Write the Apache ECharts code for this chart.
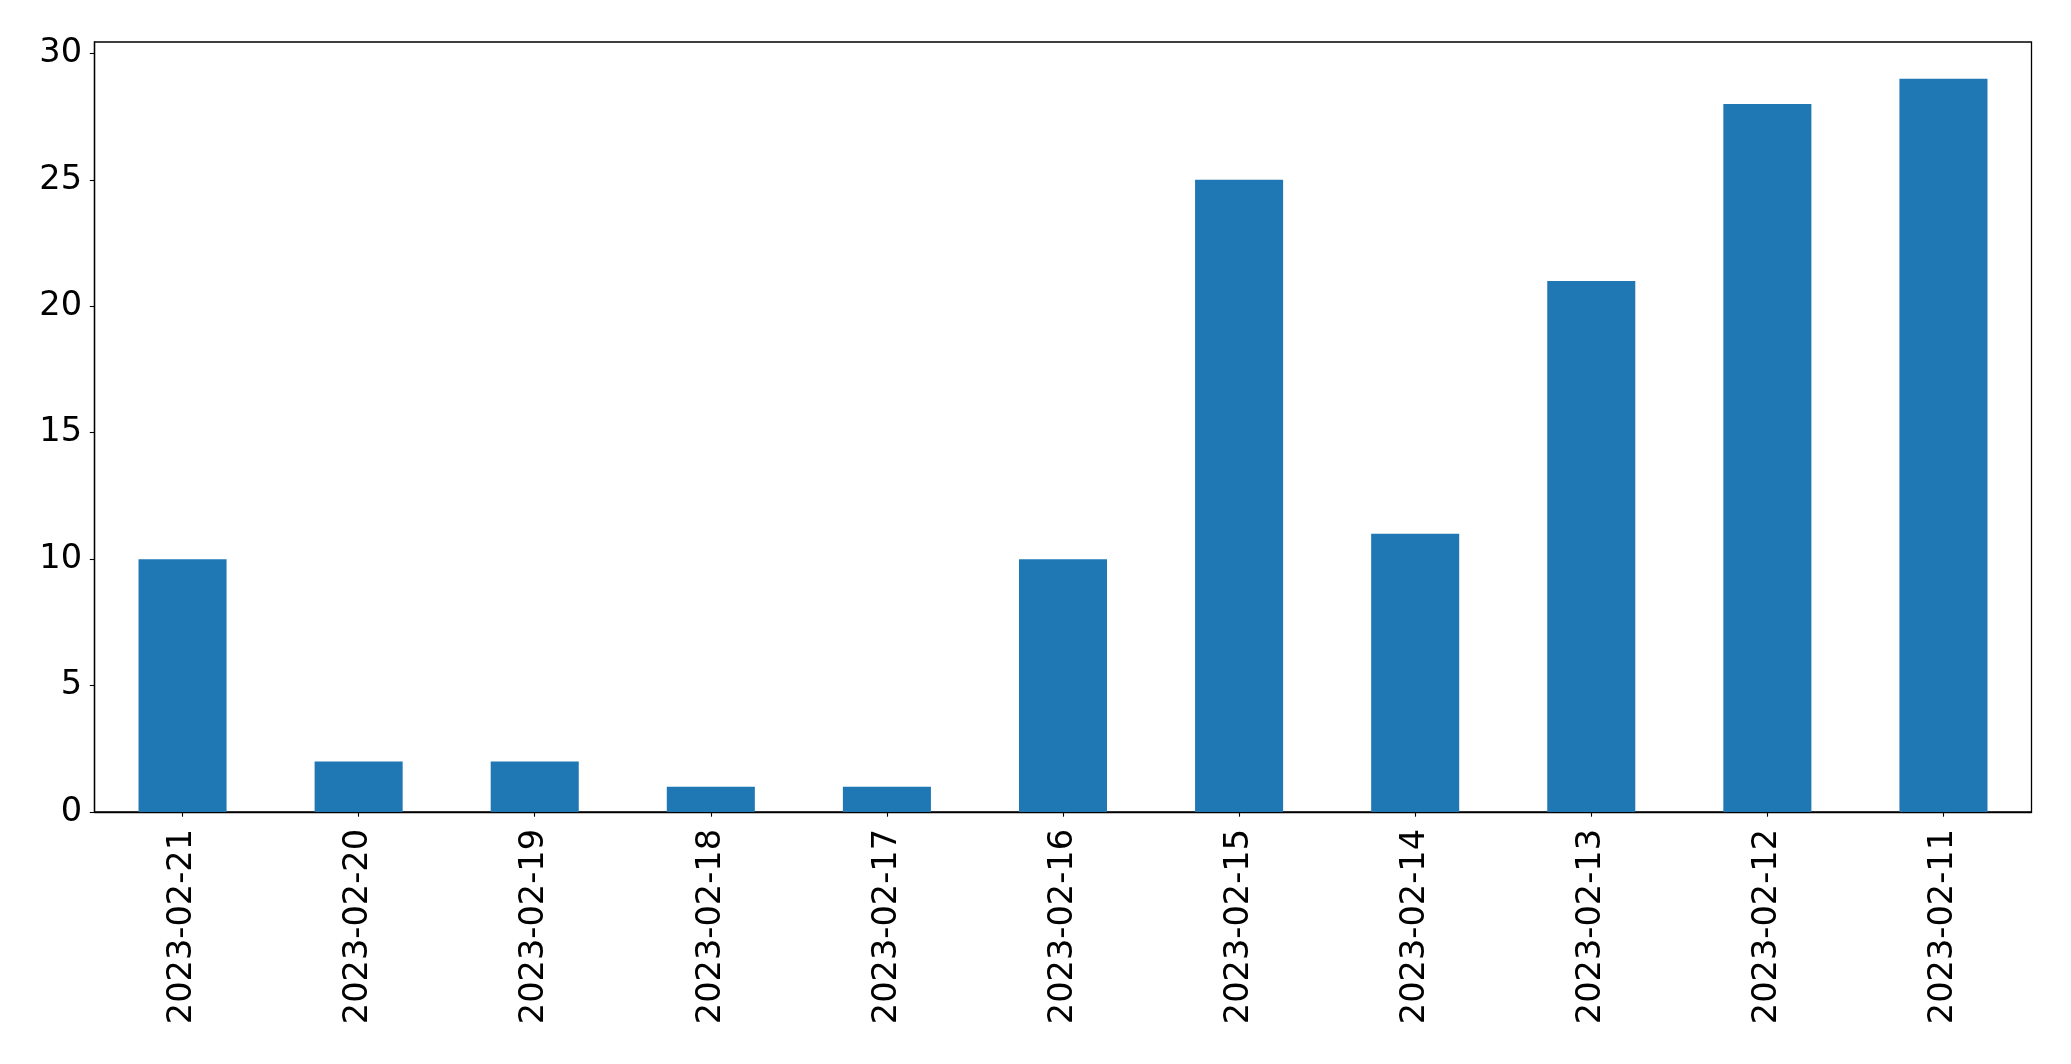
<!DOCTYPE html>
<html>
<head>
<meta charset="utf-8">
<script src="https://cdn.jsdelivr.net/npm/echarts@6/dist/echarts.min.js"></script>
<style>
html,body{margin:0;padding:0;background:#fff;}
#chart{width:2071px;height:1064px;}
</style>
</head>
<body>
<div id="chart"></div>
<script>
const categories = ['2023-02-21','2023-02-20','2023-02-19','2023-02-18','2023-02-17','2023-02-16','2023-02-15','2023-02-14','2023-02-13','2023-02-12','2023-02-11'];
const counts = [10, 2, 2, 1, 1, 10, 25, 11, 21, 28, 29];
const yTicks = [0, 5, 10, 15, 20, 25, 30];

const chart = echarts.init(document.getElementById('chart'), null, {renderer: 'canvas'});
const font = 'DejaVu Sans';
chart.setOption({
  animation: false,
  backgroundColor: '#ffffff',
  grid: {left: 94.5, right: 39.5, top: 42, bottom: 252, show: true, borderColor: '#000', borderWidth: 1.3, containLabel: false},
  xAxis: {
    type: 'category',
    data: categories,
    boundaryGap: true,
    axisLine: {show: true, lineStyle: {color: '#000', width: 1.3}},
    axisTick: {show: true, alignWithLabel: true, length: 4.7, lineStyle: {color: '#000', width: 1.1}},
    axisLabel: {rotate: 90, margin: 17, fontFamily: font, fontSize: 33.6, color: '#000', interval: 0},
    splitLine: {show: false}
  },
  yAxis: {
    type: 'value',
    min: 0,
    max: 30.45,
    axisLine: {show: true, lineStyle: {color: '#000', width: 1.3}},
    axisTick: {show: true, length: 4.7, lineStyle: {color: '#000', width: 1.1}, customValues: yTicks},
    axisLabel: {margin: 12.5, fontFamily: font, fontSize: 33.6, color: '#000', customValues: yTicks},
    splitLine: {show: false}
  },
  series: [{
    type: 'bar',
    data: counts,
    barWidth: '50%',
    itemStyle: {color: '#1f77b4'}
  }]
});
</script>
</body>
</html>
